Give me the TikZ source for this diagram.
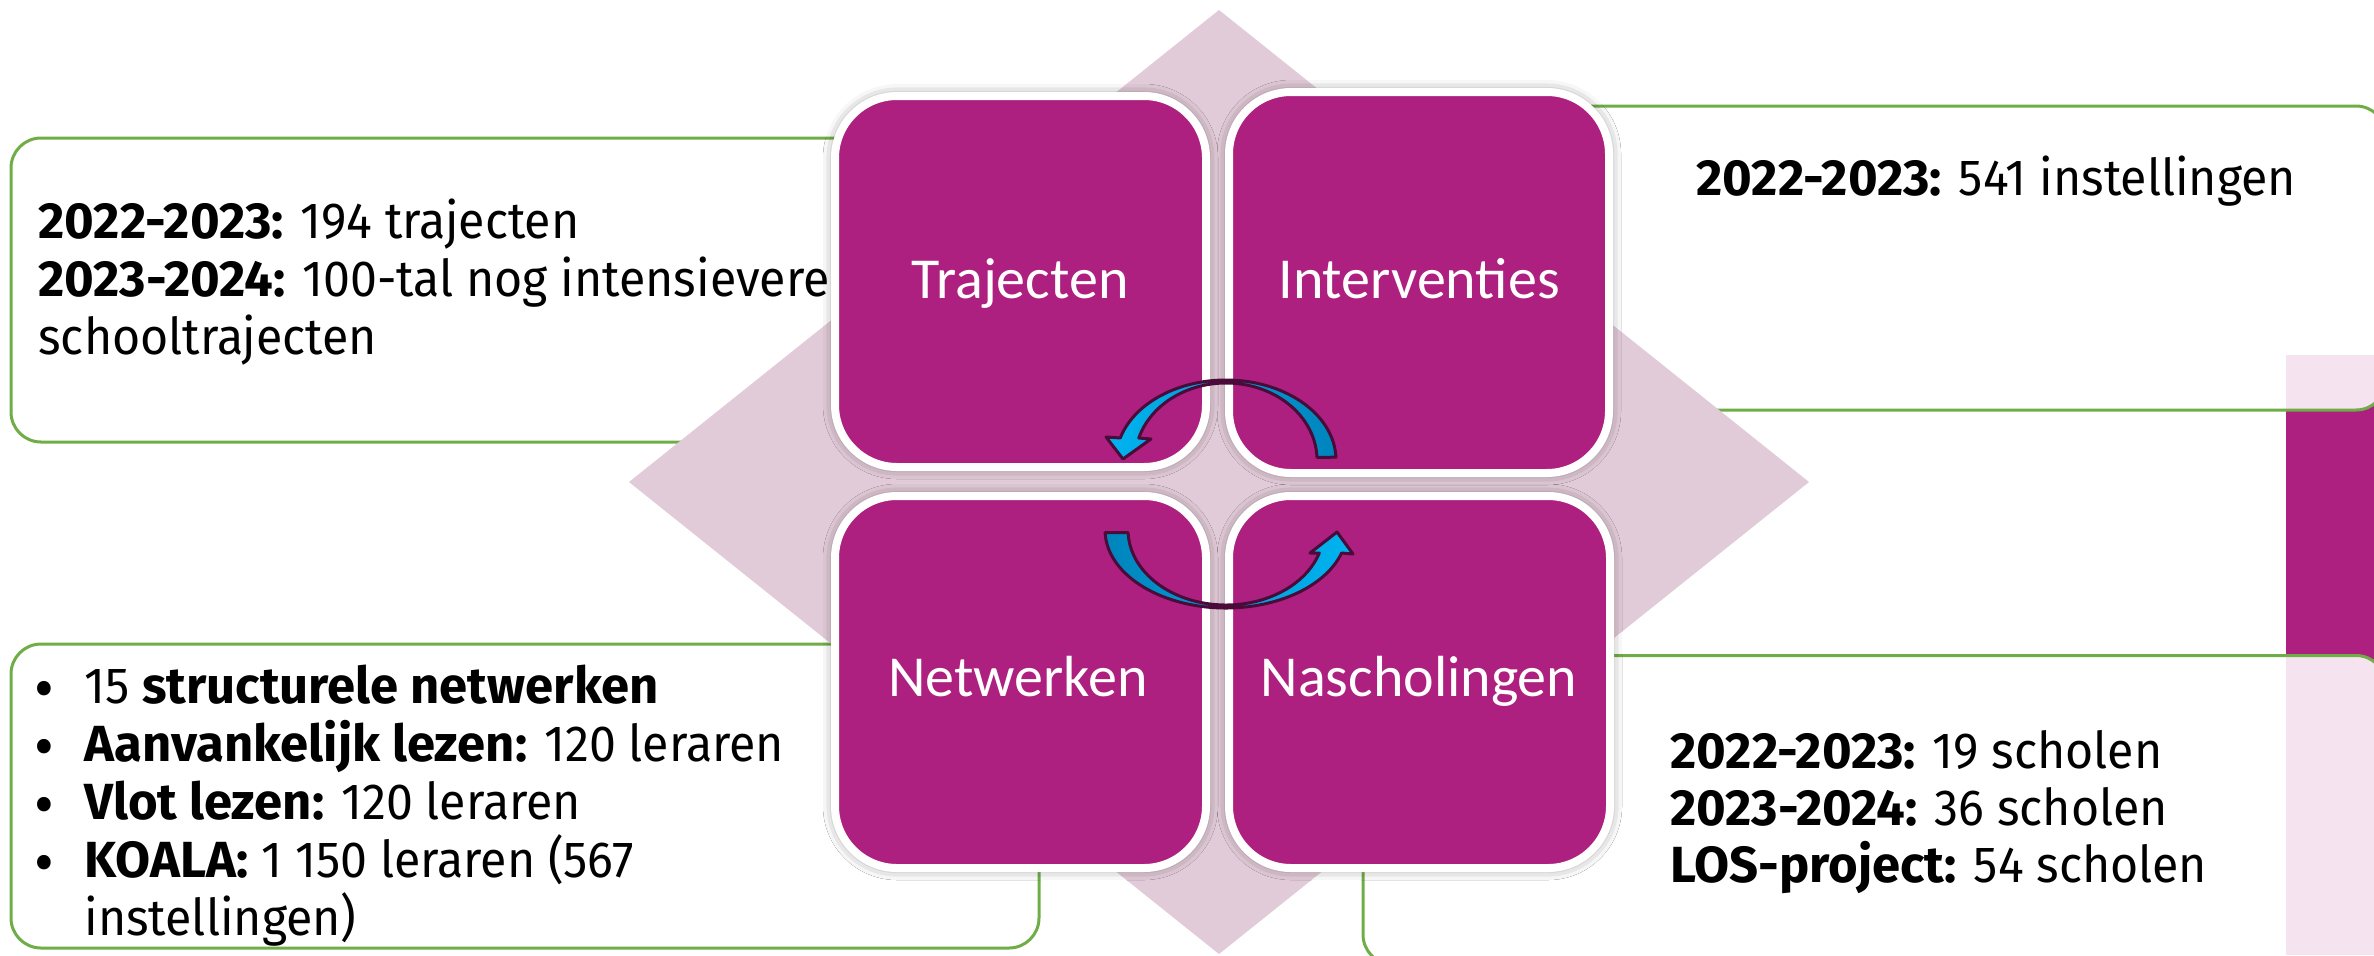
\documentclass[tikz,border=0pt]{standalone}
\usepackage{fontspec}
\setmainfont{Fira Sans}[UprightFeatures={FakeStretch=0.95}, BoldFeatures={FakeStretch=1.0}]
\newfontfamily\labelfont{Carlito}
\usetikzlibrary{shadows.blur,calc}
\definecolor{mag}{HTML}{AE207F}
\definecolor{diam}{HTML}{E2CBD8}
\definecolor{grn}{HTML}{70AD47}
\definecolor{cyanL}{HTML}{00B4F0}
\definecolor{cyanD}{HTML}{0084BC}
\definecolor{plum}{HTML}{4A0B3A}
\newcommand{\mybul}{\makebox[25pt][l]{\fontsize{32pt}{32pt}\selectfont\raisebox{-3.5pt}{•}}}
\tikzset{
 infobox/.style={draw=grn, line width=1.5pt, fill=white, fill opacity=0.88, draw opacity=1, rounded corners=15pt, inner sep=0pt, rectangle},
 magbox/.style={draw=white, line width=4pt, fill=mag, rounded corners=31pt, inner sep=0pt, rectangle,
   blur shadow={shadow xshift=0pt, shadow yshift=0pt, shadow blur radius=6pt, shadow opacity=50}},
 info/.style={anchor=base west, inner sep=0pt, font=\fontsize{25.4pt}{29pt}\selectfont, text=black},
 lab/.style={anchor=base, inner sep=0pt, font=\labelfont\fontsize{29pt}{34pt}\selectfont, text=white},
 cyc/.style={draw=plum, line width=1.5pt, line join=round},
}
\begin{document}
\begin{tikzpicture}[x=0.5pt,y=-0.5pt]
\useasboundingbox (0,0) rectangle (2374,955);
\clip (0,0) rectangle (2374,955);
% right strip
\fill[mag] (2286,355) rectangle (2374,955);
% green info boxes
\node[infobox, minimum width=494.5pt, minimum height=152pt] (tlbox) at (505.5,290) {};
\node[infobox, minimum width=468pt, minimum height=152pt] (trbox) at (1918,258) {};
\node[infobox, minimum width=514pt, minimum height=152pt] (blbox) at (525,796) {};
\node[infobox, minimum width=511.5pt, minimum height=154.5pt] (brbox) at (1874.5,810) {};
% texts
\node[info] (tl1) at (38,238) {\textbf{2022-2023:} 194 trajecten};
\node[info] (tl2) at (38,296) {\textbf{2023-2024:} 100-tal nog intensievere};
\node[info] (tl3) at (38,354) {schooltrajecten};
\node[info] (tr1) at (1696,195) {\textbf{2022-2023:} 541 instellingen};
\node[info] (bl1) at (34,703) {\mybul 15 \textbf{structurele netwerken}};
\node[info] (bl2) at (34,761) {\mybul\textbf{Aanvankelijk lezen:} 120 leraren};
\node[info] (bl3) at (34,819) {\mybul\textbf{Vlot lezen:} 120 leraren};
\node[info] (bl4) at (34,877) {\mybul\textbf{KOALA:} 1 150 leraren (567};
\node[info] (bl5) at (84,935) {instellingen)};
\node[info] (br1) at (1670,768) {\textbf{2022-2023:} 19 scholen};
\node[info] (br2) at (1670,825) {\textbf{2023-2024:} 36 scholen};
\node[info] (br3) at (1670,882) {\textbf{LOS-project:} 54 scholen};
% diamond
\fill[diam] (629,482) -- (1219,10) -- (1809,482) -- (1219,954) -- cycle;
% magenta boxes
\node[magbox, minimum width=185.5pt, minimum height=185.5pt] (traj) at (1020.5,281.5) {};
\node[magbox, minimum width=190pt, minimum height=190.5pt] (interv) at (1419,282.5) {};
\node[magbox, minimum width=185.5pt, minimum height=186pt] (netw) at (1020.5,682) {};
\node[magbox, minimum width=190.5pt, minimum height=186pt] (nasch) at (1419.5,682) {};
\node[lab] (ltraj) at (1020,298) {Trajecten};
\node[lab] (linterv) at (1419,298) {Interventies};
\node[lab] (lnetw) at (1018,696) {Netwerken};
\node[lab] (lnasch) at (1419,696) {Nascholingen};
% cycle arrows
\draw[cyc, left color=cyanL, right color=cyanD]
  ([shift={(1226,460)}]-2:110 and 80)
  arc[start angle=-2, end angle=-164, x radius=110, y radius=80]
  -- (1106,437) -- (1123,459) -- (1151,439)
  -- ([shift={(1226,460)}]-163.4:91 and 77)
  arc[start angle=-163.4, end angle=-2, x radius=91, y radius=77] -- cycle;
\draw[cyc, left color=cyanD, right color=cyanL]
  ([shift={(1226,530)}]178:121 and 78)
  arc[start angle=178, end angle=17.15, x radius=121, y radius=78]
  -- (1353,554) -- (1337,532) -- (1310,553)
  -- ([shift={(1226,530)}]17.86:98 and 75)
  arc[start angle=17.86, end angle=178, x radius=98, y radius=75] -- cycle;
\end{tikzpicture}
\end{document}
